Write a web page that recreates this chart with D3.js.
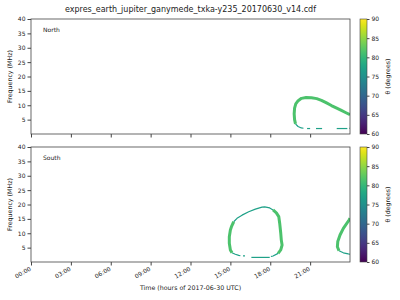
<!DOCTYPE html>
<html>
<head>
<meta charset="utf-8">
<script src="https://cdn.jsdelivr.net/npm/d3@7"></script>
<style>
  body { margin: 0; background: #fff; }
  text { font-family: "DejaVu Sans", sans-serif; fill: #222; }
</style>
</head>
<body>
<div id="chart"></div>
<script>
// titles / labels
const title = "expres_earth_jupiter_ganymede_txka-y235_20170630_v14.cdf";
const xLabel = "Time (hours of 2017-06-30 UTC)";
const yLabel = "Frequency (MHz)";
const cbLabel = "\u03b8 (degrees)";
const panels = ["North", "South"];

// axis ticks
const hourTicks = [0, 3, 6, 9, 12, 15, 18, 21];
const freqTicks = [5, 10, 15, 20, 25, 30, 35, 40];
const thetaTicks = [60, 65, 70, 75, 80, 85, 90];

// emission tracks: [hour, MHz]
// north
const northArc = [[19.9, 3.5], [19.83, 5], [19.8, 7], [19.83, 9], [19.92, 10.5], [20.1, 11.6], [20.35, 12.4],
  [20.7, 12.7], [21.1, 12.6], [21.5, 12.3], [21.85, 11.7], [22.2, 10.9], [22.6, 9.9], [23.0, 9.0],
  [23.35, 8.2], [23.7, 7.4], [24.0, 6.7]];
const northFoot = [[19.9, 3.5], [20.09, 2.6], [20.34, 2.1], [20.5, 2.0]];
const northDash1 = [[20.77, 1.9], [21.0, 1.9]];
const northDash2 = [[21.44, 1.9], [21.9, 1.9]];
const northDash3 = [[23.0, 1.9], [23.8, 1.9]];
const northDash4 = [[23.95, 2.0], [24.0, 2.0]];

// south
const southTop = [[15.25, 14.0], [15.5, 15.2], [15.88, 16.3], [16.38, 17.5], [16.88, 18.4], [17.38, 19.1],
  [17.58, 19.2], [17.96, 18.8], [18.21, 18.1]];
const southRight = [[18.21, 18.1], [18.46, 17.1], [18.64, 15.8], [18.71, 13.5], [18.79, 10.0], [18.83, 7.7],
  [18.89, 5.9], [18.79, 4.2], [18.59, 3.0]];
const southRightFoot = [[18.59, 3.0], [18.21, 2.1], [18.05, 1.9]];
const southBase = [[16.58, 1.6], [17.96, 1.6]];
const southLeft = [[15.25, 14.0], [15.1, 12.5], [15.0, 11.1], [14.92, 8.8], [14.92, 6.5], [15.0, 4.2], [15.12, 3.2]];
const southLeftFoot = [[15.12, 3.2], [15.37, 2.7], [15.63, 2.3], [15.75, 2.2]];
const southDash = [[15.95, 2.1], [16.1, 2.1]];
const southLate = [[24.0, 15.2], [23.93, 14.6], [23.5, 11.7], [23.25, 9.4], [23.08, 7.1], [23.05, 5.3], [23.17, 3.9]];
const southLateFoot = [[23.17, 3.9], [23.5, 3.2], [23.87, 2.8], [24.0, 2.7]];

// beaming angle of each track
const northTracks = [
  { theta: 77, pts: northFoot }, { theta: 77, pts: northDash1 }, { theta: 77, pts: northDash2 },
  { theta: 77, pts: northDash3 }, { theta: 77, pts: northDash4 }, { theta: 81.5, pts: northArc }
];
const southTracks = [
  { theta: 77, pts: southTop }, { theta: 77, pts: southRightFoot }, { theta: 77, pts: southBase },
  { theta: 77, pts: southLeftFoot }, { theta: 77, pts: southDash }, { theta: 77, pts: southLateFoot },
  { theta: 81.5, pts: southRight }, { theta: 81.5, pts: southLeft }, { theta: 81.5, pts: southLate }
];

const W = 400, H = 300;
const svg = d3.select("#chart").append("svg").attr("width", W).attr("height", H);
svg.append("rect").attr("width", W).attr("height", H).attr("fill", "#fff");

const day0 = new Date(Date.UTC(2017, 5, 30));
const toDate = h => new Date(day0.getTime() + h * 3600e3);

const x = d3.scaleUtc().domain([toDate(0), toDate(24)]).range([31, 350]);
const color = d3.scaleSequential(d3.interpolateViridis).domain([60, 90]);

svg.append("text").attr("x", 190.5).attr("y", 12).attr("text-anchor", "middle")
  .attr("font-size", 8).text(title);

const panelTops = [19, 147];
const panelH = 115;

// gradient for colorbar
const defs = svg.append("defs");
const grad = defs.append("linearGradient").attr("id", "viridis")
  .attr("x1", 0).attr("y1", 1).attr("x2", 0).attr("y2", 0);
d3.range(0, 1.001, 0.05).forEach(t => {
  grad.append("stop").attr("offset", t).attr("stop-color", d3.interpolateViridis(t));
});

panels.forEach((name, i) => {
  const top = panelTops[i];
  const y = d3.scaleLinear().domain([0, 40]).range([top + panelH, top]);
  const g = svg.append("g");

  defs.append("clipPath").attr("id", "clip" + i)
    .append("rect").attr("x", 31).attr("y", top).attr("width", 319).attr("height", panelH);

  const line = d3.line().x(d => x(toDate(d[0]))).y(d => y(d[1]));
  const tracks = i === 0 ? northTracks : southTracks;
  g.append("g").attr("clip-path", `url(#clip${i})`)
    .selectAll("path").data(tracks).enter().append("path")
    .attr("d", d => line(d.pts))
    .attr("fill", "none")
    .attr("stroke", d => color(d.theta))
    .attr("stroke-width", d => d.theta >= 80 ? 3 : 1.2)
    .attr("stroke-linejoin", "round");

  // frame
  g.append("rect").attr("x", 31).attr("y", top).attr("width", 319).attr("height", panelH)
    .attr("fill", "none").attr("stroke", "#444").attr("stroke-width", 0.8);

  // y axis
  const yAxis = g.append("g").attr("transform", "translate(31,0)")
    .call(d3.axisLeft(y).tickValues(freqTicks).tickSize(3.5).tickPadding(2));
  yAxis.select(".domain").remove();
  yAxis.selectAll("text").attr("font-size", 6).attr("font-family", "DejaVu Sans").attr("fill", "#222");
  yAxis.selectAll("line").attr("stroke", "#444");

  // x axis
  const xAxis = g.append("g").attr("transform", `translate(0,${top + panelH})`)
    .call(d3.axisBottom(x).tickValues(hourTicks.map(toDate)).tickSize(3.5)
      .tickFormat(i === 1 ? d3.utcFormat("%H:%M") : ""));
  xAxis.select(".domain").remove();
  xAxis.selectAll("line").attr("stroke", "#444");
  if (i === 1) {
    xAxis.selectAll("text").attr("font-size", 6).attr("font-family", "DejaVu Sans").attr("fill", "#222")
      .attr("text-anchor", "end").attr("dy", null).attr("y", 0)
      .attr("transform", "translate(0,8) rotate(-30)");
  }

  g.append("text").attr("x", 43).attr("y", top + 13).attr("font-size", 6).text(name);

  g.append("text").attr("transform", `translate(12,${top + panelH / 2}) rotate(-90)`)
    .attr("text-anchor", "middle").attr("font-size", 6.3).text(yLabel);

  // colorbar
  const cb = svg.append("g");
  cb.append("rect").attr("x", 360).attr("y", top).attr("width", 7).attr("height", panelH)
    .attr("fill", "url(#viridis)").attr("stroke", "#444").attr("stroke-width", 0.6);
  const cbScale = d3.scaleLinear().domain([60, 90]).range([top + panelH, top]);
  const cbAxis = cb.append("g").attr("transform", "translate(367,0)")
    .call(d3.axisRight(cbScale).tickValues(thetaTicks).tickSize(2.5).tickPadding(2));
  cbAxis.select(".domain").remove();
  cbAxis.selectAll("text").attr("font-size", 6).attr("font-family", "DejaVu Sans").attr("fill", "#222");
  cbAxis.selectAll("line").attr("stroke", "#444");
  cb.append("text").attr("transform", `translate(390,${top + panelH / 2}) rotate(-90)`)
    .attr("text-anchor", "middle").attr("font-size", 6.3).text(cbLabel);
});

svg.append("text").attr("x", 190.5).attr("y", 290).attr("text-anchor", "middle")
  .attr("font-size", 6.3).text(xLabel);
</script>
</body>
</html>
